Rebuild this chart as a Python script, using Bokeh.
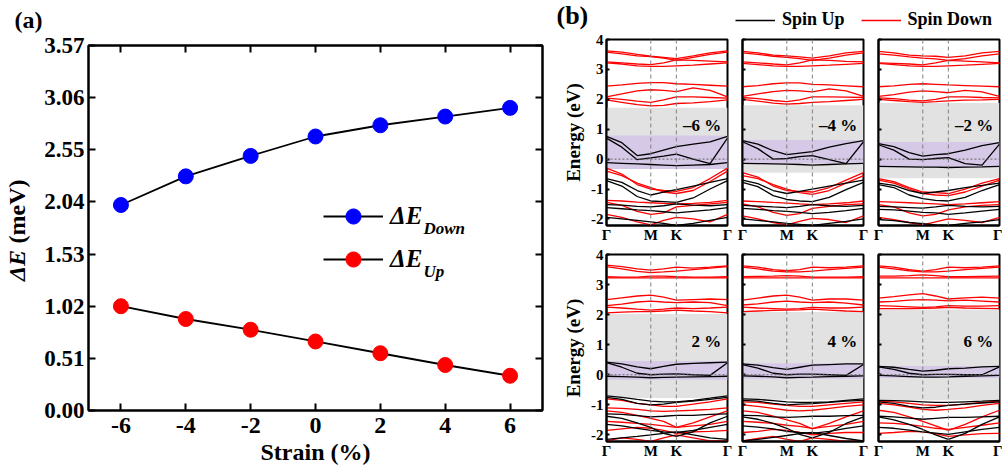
import math
from bokeh.plotting import figure
from bokeh.models import FixedTicker, Label, Legend, LegendItem, Span, LinearAxis, Range1d
from bokeh.layouts import row, column
from bokeh.embed import file_html
from bokeh.resources import INLINE

FONT = "Liberation Serif"

# ---------------- panel (a) data ----------------
STRAIN = [-6, -4, -2, 0, 2, 4, 6]
DE_DOWN = [2.01, 2.29, 2.49, 2.68, 2.79, 2.875, 2.96]
DE_UP = [1.02, 0.895, 0.79, 0.675, 0.56, 0.445, 0.34]
A_XTICKS = [-6, -4, -2, 0, 2, 4, 6]
A_YTICKS = [0.00, 0.51, 1.02, 1.53, 2.04, 2.55, 3.06, 3.57]

# ---------------- panel (b) data ----------------
KPTS = [0.0, 0.2, 0.4, 0.5774, 0.744, 0.9107, 1.13, 1.35, 1.5774]
KTICKS = [0.0, 0.5774, 0.9107, 1.5774]
KLABELS = ["Γ", "M", "K", "Γ"]
E_TICKS = [-2, -1, 0, 1, 2, 3, 4]
STRAIN_LABELS = ["–6 %", "–4 %", "–2 %", "2 %", "4 %", "6 %"]

GAP_M6 = [-0.33, 1.72]
UPWIN_M6 = [-0.33, 0.79]
DOWN_M6 = [
    [3.62, 3.58, 3.50, 3.44, 3.40, 3.36, 3.45, 3.55, 3.62],
    [3.58, 3.52, 3.45, 3.43, 3.38, 3.30, 3.40, 3.50, 3.58],
    [3.25, 3.22, 3.18, 3.16, 3.22, 3.32, 3.30, 3.28, 3.25],
    [3.22, 3.18, 3.12, 3.10, 3.10, 3.12, 3.14, 3.18, 3.22],
    [2.44, 2.48, 2.53, 2.56, 2.56, 2.52, 2.50, 2.47, 2.44],
    [2.08, 2.18, 2.28, 2.32, 2.30, 2.26, 2.38, 2.30, 2.08],
    [2.04, 2.00, 1.94, 1.90, 1.98, 2.08, 2.08, 2.06, 2.04],
    [1.98, 1.90, 1.82, 1.78, 1.80, 1.86, 1.88, 1.92, 1.98],
    [-0.30, -0.50, -0.85, -1.00, -1.05, -1.08, -0.95, -0.65, -0.30],
    [-0.40, -0.55, -0.80, -0.95, -1.10, -1.15, -1.05, -0.75, -0.40],
    [-1.38, -1.40, -1.44, -1.46, -1.48, -1.50, -1.48, -1.45, -1.38],
    [-1.45, -1.55, -1.75, -1.85, -1.80, -1.60, -1.55, -1.50, -1.45],
    [-1.85, -1.95, -2.10, -2.20, -2.05, -1.95, -2.00, -2.10, -1.85],
]
UP_M6 = [
    [0.76, 0.55, 0.12, 0.18, 0.30, 0.42, 0.50, 0.58, 0.76],
    [0.70, 0.40, -0.02, 0.04, 0.10, 0.17, 0.00, -0.15, 0.70],
    [-0.12, -0.14, -0.16, -0.18, -0.20, -0.22, -0.20, -0.18, -0.12],
    [-0.65, -0.78, -1.05, -1.20, -1.10, -1.02, -0.90, -0.78, -0.65],
    [-0.72, -0.90, -1.25, -1.40, -1.42, -1.45, -1.30, -1.00, -0.72],
    [-1.52, -1.54, -1.58, -1.60, -1.56, -1.50, -1.54, -1.56, -1.52],
    [-1.62, -1.66, -1.70, -1.72, -1.76, -1.80, -1.75, -1.70, -1.62],
    [-1.95, -2.00, -2.05, -2.10, -2.15, -2.22, -2.15, -2.05, -1.95],
]

GAP_M4 = [-0.46, 1.80]
UPWIN_M4 = [-0.15, 0.64]
DOWN_M4 = [
    [3.60, 3.55, 3.48, 3.45, 3.42, 3.38, 3.45, 3.55, 3.60],
    [3.55, 3.50, 3.44, 3.40, 3.36, 3.30, 3.38, 3.48, 3.55],
    [3.25, 3.22, 3.18, 3.15, 3.22, 3.32, 3.30, 3.27, 3.25],
    [3.20, 3.16, 3.12, 3.10, 3.10, 3.12, 3.14, 3.17, 3.20],
    [2.42, 2.46, 2.52, 2.55, 2.55, 2.50, 2.48, 2.45, 2.42],
    [2.10, 2.18, 2.26, 2.30, 2.28, 2.25, 2.35, 2.28, 2.10],
    [2.06, 2.02, 1.96, 1.92, 1.98, 2.08, 2.08, 2.07, 2.06],
    [2.00, 1.94, 1.87, 1.84, 1.86, 1.90, 1.92, 1.96, 2.00],
    [-0.45, -0.60, -0.90, -1.05, -1.08, -1.10, -0.95, -0.70, -0.45],
    [-0.55, -0.65, -0.85, -1.00, -1.12, -1.18, -1.05, -0.80, -0.55],
    [-1.40, -1.42, -1.45, -1.47, -1.50, -1.52, -1.50, -1.46, -1.40],
    [-1.50, -1.60, -1.78, -1.88, -1.82, -1.65, -1.58, -1.52, -1.50],
    [-1.90, -2.00, -2.12, -2.20, -2.08, -1.98, -2.02, -2.12, -1.90],
]
UP_M4 = [
    [0.62, 0.50, 0.28, 0.15, 0.20, 0.25, 0.40, 0.52, 0.62],
    [0.58, 0.35, 0.00, 0.02, 0.08, 0.12, -0.02, -0.15, 0.58],
    [-0.14, -0.15, -0.16, -0.17, -0.18, -0.20, -0.18, -0.16, -0.14],
    [-0.70, -0.82, -1.05, -1.15, -1.08, -1.00, -0.90, -0.80, -0.70],
    [-0.78, -0.92, -1.22, -1.35, -1.40, -1.42, -1.28, -1.02, -0.78],
    [-1.55, -1.57, -1.60, -1.62, -1.58, -1.52, -1.56, -1.58, -1.55],
    [-1.65, -1.68, -1.72, -1.75, -1.78, -1.82, -1.78, -1.72, -1.65],
    [-2.00, -2.05, -2.10, -2.15, -2.18, -2.22, -2.15, -2.08, -2.00],
]

GAP_M2 = [-0.64, 1.88]
UPWIN_M2 = [-0.27, 0.57]
DOWN_M2 = [
    [3.60, 3.55, 3.48, 3.45, 3.44, 3.40, 3.45, 3.55, 3.60],
    [3.52, 3.48, 3.42, 3.38, 3.35, 3.30, 3.36, 3.45, 3.52],
    [3.22, 3.20, 3.18, 3.15, 3.22, 3.30, 3.28, 3.25, 3.22],
    [3.20, 3.16, 3.12, 3.10, 3.10, 3.12, 3.14, 3.17, 3.20],
    [2.42, 2.45, 2.50, 2.52, 2.50, 2.48, 2.46, 2.44, 2.42],
    [2.10, 2.16, 2.24, 2.28, 2.26, 2.22, 2.30, 2.25, 2.10],
    [2.05, 2.02, 1.97, 1.95, 2.00, 2.08, 2.08, 2.06, 2.05],
    [2.00, 1.96, 1.92, 1.90, 1.92, 1.95, 1.97, 1.98, 2.00],
    [-0.65, -0.75, -0.95, -1.10, -1.12, -1.15, -1.00, -0.80, -0.65],
    [-0.70, -0.80, -1.00, -1.15, -1.20, -1.22, -1.10, -0.90, -0.70],
    [-1.42, -1.44, -1.46, -1.48, -1.50, -1.52, -1.50, -1.46, -1.42],
    [-1.52, -1.60, -1.80, -1.90, -1.85, -1.70, -1.60, -1.55, -1.52],
    [-1.95, -2.02, -2.12, -2.20, -2.10, -2.00, -2.05, -2.12, -1.95],
]
UP_M2 = [
    [0.52, 0.42, 0.22, 0.10, 0.15, 0.18, 0.30, 0.45, 0.55],
    [0.48, 0.30, 0.00, -0.02, 0.02, 0.05, -0.15, -0.20, 0.50],
    [-0.24, -0.25, -0.26, -0.27, -0.27, -0.28, -0.27, -0.26, -0.24],
    [-0.80, -0.88, -1.05, -1.15, -1.10, -1.05, -0.95, -0.88, -0.80],
    [-0.85, -0.95, -1.20, -1.32, -1.38, -1.40, -1.28, -1.05, -0.85],
    [-1.58, -1.60, -1.62, -1.64, -1.60, -1.55, -1.58, -1.60, -1.58],
    [-1.68, -1.70, -1.74, -1.78, -1.80, -1.85, -1.80, -1.74, -1.68],
    [-2.02, -2.06, -2.12, -2.16, -2.20, -2.22, -2.15, -2.10, -2.02],
]

GAP_P2 = [-0.77, 2.02]
UPWIN_P2 = [-0.17, 0.46]
DOWN_P2 = [
    [3.65, 3.60, 3.52, 3.48, 3.52, 3.58, 3.55, 3.58, 3.62],
    [3.60, 3.52, 3.44, 3.40, 3.42, 3.45, 3.50, 3.55, 3.60],
    [3.26, 3.25, 3.25, 3.28, 3.28, 3.26, 3.25, 3.25, 3.26],
    [3.22, 3.22, 3.22, 3.22, 3.22, 3.22, 3.22, 3.22, 3.22],
    [2.50, 2.56, 2.62, 2.65, 2.58, 2.48, 2.50, 2.52, 2.50],
    [2.30, 2.35, 2.42, 2.45, 2.42, 2.40, 2.42, 2.40, 2.30],
    [2.25, 2.22, 2.18, 2.15, 2.18, 2.22, 2.20, 2.22, 2.25],
    [2.06, 2.08, 2.10, 2.10, 2.12, 2.15, 2.12, 2.10, 2.06],
    [-0.80, -0.85, -0.95, -1.00, -1.05, -1.05, -0.98, -0.90, -0.80],
    [-1.10, -1.12, -1.15, -1.20, -1.22, -1.20, -1.18, -1.15, -1.10],
    [-1.20, -1.25, -1.35, -1.45, -1.55, -1.75, -1.60, -1.40, -1.20],
    [-1.55, -1.58, -1.62, -1.65, -1.70, -1.75, -1.70, -1.65, -1.55],
    [-1.85, -1.80, -1.75, -1.78, -1.85, -1.95, -1.90, -1.88, -1.85],
    [-2.20, -2.10, -2.15, -2.22, -2.10, -2.00, -2.10, -2.20, -2.20],
]
UP_P2 = [
    [0.42, 0.36, 0.26, 0.20, 0.28, 0.35, 0.38, 0.40, 0.42],
    [0.40, 0.25, 0.05, 0.00, 0.02, 0.03, 0.00, -0.02, 0.40],
    [-0.05, -0.06, -0.08, -0.10, -0.09, -0.08, -0.07, -0.06, -0.05],
    [-0.70, -0.75, -0.82, -0.88, -0.90, -0.90, -0.85, -0.78, -0.70],
    [-0.75, -0.82, -0.95, -1.00, -0.98, -0.92, -0.88, -0.82, -0.75],
    [-1.30, -1.32, -1.36, -1.40, -1.38, -1.35, -1.35, -1.32, -1.30],
    [-1.38, -1.45, -1.60, -1.75, -1.95, -2.05, -1.90, -1.60, -1.38],
    [-1.65, -1.70, -1.78, -1.85, -1.90, -1.92, -1.85, -1.75, -1.65],
    [-2.15, -2.10, -2.05, -2.00, -1.95, -1.90, -2.00, -2.10, -2.15],
]

GAP_P4 = [-0.83, 2.09]
UPWIN_P4 = [-0.13, 0.38]
DOWN_P4 = [
    [3.62, 3.58, 3.50, 3.46, 3.50, 3.58, 3.56, 3.58, 3.62],
    [3.58, 3.52, 3.45, 3.42, 3.42, 3.45, 3.50, 3.54, 3.58],
    [3.26, 3.27, 3.28, 3.30, 3.28, 3.25, 3.25, 3.25, 3.26],
    [3.22, 3.22, 3.22, 3.22, 3.22, 3.22, 3.22, 3.22, 3.22],
    [2.48, 2.55, 2.62, 2.65, 2.58, 2.48, 2.52, 2.52, 2.48],
    [2.32, 2.36, 2.42, 2.45, 2.42, 2.40, 2.42, 2.38, 2.32],
    [2.25, 2.22, 2.20, 2.18, 2.20, 2.24, 2.22, 2.22, 2.25],
    [2.10, 2.12, 2.14, 2.15, 2.16, 2.18, 2.15, 2.12, 2.10],
    [-0.90, -0.92, -0.98, -1.02, -1.05, -1.05, -1.00, -0.95, -0.90],
    [-1.00, -1.05, -1.12, -1.18, -1.20, -1.18, -1.12, -1.05, -1.00],
    [-1.20, -1.25, -1.38, -1.50, -1.62, -1.80, -1.62, -1.40, -1.20],
    [-1.55, -1.58, -1.62, -1.68, -1.72, -1.78, -1.72, -1.65, -1.55],
    [-1.92, -1.88, -1.82, -1.85, -1.92, -2.00, -1.95, -1.92, -1.92],
    [-2.20, -2.12, -2.05, -2.15, -2.22, -2.10, -2.15, -2.22, -2.20],
]
UP_P4 = [
    [0.36, 0.32, 0.24, 0.18, 0.25, 0.32, 0.34, 0.36, 0.36],
    [0.34, 0.22, 0.05, 0.00, 0.02, 0.02, 0.00, -0.02, 0.34],
    [-0.04, -0.05, -0.07, -0.10, -0.09, -0.08, -0.06, -0.05, -0.04],
    [-0.80, -0.82, -0.86, -0.90, -0.92, -0.92, -0.90, -0.85, -0.80],
    [-0.85, -0.88, -0.95, -1.00, -0.98, -0.96, -0.92, -0.88, -0.85],
    [-1.35, -1.36, -1.40, -1.42, -1.40, -1.38, -1.38, -1.36, -1.35],
    [-1.40, -1.48, -1.62, -1.78, -1.98, -2.10, -1.92, -1.62, -1.40],
    [-1.70, -1.74, -1.80, -1.88, -1.92, -1.95, -1.88, -1.78, -1.70],
    [-2.20, -2.15, -2.08, -2.02, -1.96, -1.92, -2.02, -2.12, -2.20],
]

GAP_P6 = [-0.85, 2.17]
UPWIN_P6 = [-0.11, 0.29]
DOWN_P6 = [
    [3.62, 3.58, 3.50, 3.45, 3.50, 3.58, 3.56, 3.58, 3.62],
    [3.58, 3.52, 3.46, 3.42, 3.42, 3.45, 3.50, 3.54, 3.58],
    [3.28, 3.28, 3.30, 3.32, 3.30, 3.26, 3.26, 3.27, 3.28],
    [3.22, 3.22, 3.22, 3.22, 3.22, 3.22, 3.22, 3.22, 3.22],
    [2.55, 2.60, 2.66, 2.70, 2.62, 2.52, 2.56, 2.58, 2.55],
    [2.42, 2.44, 2.48, 2.50, 2.48, 2.46, 2.48, 2.45, 2.42],
    [2.30, 2.28, 2.26, 2.24, 2.26, 2.30, 2.28, 2.28, 2.30],
    [2.20, 2.20, 2.20, 2.21, 2.22, 2.24, 2.22, 2.21, 2.20],
    [-0.88, -0.90, -0.95, -1.00, -1.02, -1.02, -0.98, -0.92, -0.88],
    [-0.95, -1.00, -1.08, -1.15, -1.18, -1.15, -1.10, -1.02, -0.95],
    [-1.18, -1.25, -1.40, -1.55, -1.70, -1.85, -1.65, -1.40, -1.18],
    [-1.60, -1.62, -1.66, -1.72, -1.78, -1.82, -1.75, -1.68, -1.60],
    [-1.95, -1.92, -1.88, -1.90, -1.96, -2.05, -2.00, -1.96, -1.95],
]
UP_P6 = [
    [0.28, 0.25, 0.18, 0.12, 0.15, 0.20, 0.22, 0.26, 0.28],
    [0.26, 0.18, 0.05, 0.00, 0.01, 0.01, 0.00, 0.00, 0.26],
    [-0.02, -0.04, -0.06, -0.08, -0.08, -0.07, -0.05, -0.04, -0.02],
    [-0.85, -0.86, -0.88, -0.90, -0.92, -0.92, -0.90, -0.88, -0.85],
    [-0.90, -0.95, -1.05, -1.10, -1.08, -1.02, -0.98, -0.94, -0.90],
    [-1.38, -1.40, -1.44, -1.48, -1.45, -1.42, -1.42, -1.40, -1.38],
    [-1.40, -1.50, -1.65, -1.82, -2.00, -2.15, -1.95, -1.65, -1.40],
    [-1.75, -1.78, -1.84, -1.90, -1.94, -1.98, -1.90, -1.82, -1.75],
]

PANELS = [
    (STRAIN_LABELS[0], DOWN_M6, UP_M6, GAP_M6, UPWIN_M6),
    (STRAIN_LABELS[1], DOWN_M4, UP_M4, GAP_M4, UPWIN_M4),
    (STRAIN_LABELS[2], DOWN_M2, UP_M2, GAP_M2, UPWIN_M2),
    (STRAIN_LABELS[3], DOWN_P2, UP_P2, GAP_P2, UPWIN_P2),
    (STRAIN_LABELS[4], DOWN_P4, UP_P4, GAP_P4, UPWIN_P4),
    (STRAIN_LABELS[5], DOWN_P6, UP_P6, GAP_P6, UPWIN_P6),
]

RED = "#ff0000"
BLUE = "#0000ff"
GRAY_FILL = "#e2e2e2"
PURPLE_FILL = "#d6c9e8"


def style_axis(ax, size, tick_in, lw=2.0, standoff=5):
    ax.major_label_text_font = FONT
    ax.major_label_text_font_style = "bold"
    ax.major_label_text_font_size = size
    ax.major_label_text_color = "black"
    ax.major_label_standoff = standoff
    ax.major_tick_in = tick_in
    ax.major_tick_out = 0
    ax.minor_tick_line_color = None
    ax.axis_line_width = lw
    ax.axis_line_color = "black"
    ax.major_tick_line_width = lw
    ax.major_tick_line_color = "black"


def blank_fig(w, h):
    f = figure(width=w, height=h, x_range=Range1d(0, w), y_range=Range1d(0, h),
               output_backend="svg", toolbar_location=None,
               x_axis_type=None, y_axis_type=None, min_border=0)
    f.outline_line_color = None
    f.grid.visible = False
    return f


def txt(text, x, y, size, style="bold", align="left", baseline="middle", angle=0.0):
    return Label(x=x, y=y, text=text, angle=angle, text_font=FONT, text_font_style=style,
                 text_font_size=size, text_color="black", text_align=align,
                 text_baseline=baseline)


# ================= panel (a) =================
A_X0, A_X1, A_Y0, A_Y1 = -7.0, 7.0, 0.0, 3.57
A_FW, A_FH = 454, 365
TOP_A = 33           # height of the strip holding "(a)"
H_A = 472 - TOP_A    # height of panel (a) figure and of its y-title strip


def a_pos(px, py):
    """pixel offset from the frame's top-left corner -> data coordinates"""
    return (A_X0 + px * (A_X1 - A_X0) / A_FW, A_Y1 - py * (A_Y1 - A_Y0) / A_FH)


pa = figure(width=519, height=H_A, x_range=Range1d(A_X0, A_X1), y_range=Range1d(A_Y0, A_Y1),
            output_backend="svg", toolbar_location=None,
            min_border_left=52, min_border_right=13, min_border_top=12, min_border_bottom=62)
pa.grid.visible = False
pa.outline_line_color = "black"
pa.outline_line_width = 2

pa.xaxis.ticker = FixedTicker(ticks=A_XTICKS)
pa.xaxis.major_label_overrides = {t: str(t) for t in A_XTICKS}
pa.yaxis.ticker = FixedTicker(ticks=A_YTICKS)
pa.yaxis.major_label_overrides = {t: f"{t:.2f}" for t in A_YTICKS}
style_axis(pa.xaxis[0], "24px", 7, standoff=7)
style_axis(pa.yaxis[0], "23px", 7, standoff=4)
pa.xaxis.axis_label = "Strain (%)"
pa.xaxis.axis_label_text_font = FONT
pa.xaxis.axis_label_text_font_style = "bold"
pa.xaxis.axis_label_text_font_size = "24px"
pa.xaxis.axis_label_text_color = "black"
pa.xaxis.axis_label_standoff = 3

ta = LinearAxis(ticker=FixedTicker(ticks=A_XTICKS),
                major_label_overrides={t: "" for t in A_XTICKS})
style_axis(ta, "10px", 7, standoff=0)
pa.add_layout(ta, "above")
ra = LinearAxis(ticker=FixedTicker(ticks=A_YTICKS),
                major_label_overrides={t: "" for t in A_YTICKS})
style_axis(ra, "10px", 7, standoff=0)
pa.add_layout(ra, "right")

ld = pa.line(STRAIN, DE_DOWN, line_color="black", line_width=1.8)
sd = pa.scatter(STRAIN, DE_DOWN, size=15, marker="circle", fill_color=BLUE, line_color=BLUE)
lu = pa.line(STRAIN, DE_UP, line_color="black", line_width=1.8)
su = pa.scatter(STRAIN, DE_UP, size=15, marker="circle", fill_color=RED, line_color=RED)

leg_a = Legend(items=[LegendItem(label="ΔE", renderers=[ld, sd]),
                      LegendItem(label="ΔE", renderers=[lu, su])],
               location=(235, 132), orientation="vertical",
               glyph_width=60, glyph_height=38, label_height=38, spacing=5,
               padding=0, margin=0, label_standoff=7,
               border_line_color=None, background_fill_alpha=0,
               label_text_font=FONT, label_text_font_style="bold italic",
               label_text_font_size="25px", label_text_color="black")
pa.add_layout(leg_a)

for sub, py in (("Down", 183), ("Up", 226)):
    x, y = a_pos(335, py)
    pa.add_layout(txt(sub, x, y, "17px", style="bold italic"))

# strip left of panel (a) holding the y-axis title ("ΔE" italic, "(meV)" upright)
ys = blank_fig(36, H_A)
ys.add_layout(txt("ΔE", 16, 193, "24px", style="bold italic", align="right",
                  angle=math.pi / 2))
ys.add_layout(txt("(meV)", 16, 201, "24px", align="left", angle=math.pi / 2))

# strip above panel (a) holding "(a)"
ta_strip = blank_fig(555, TOP_A)
ta_strip.add_layout(txt("(a)", 14, TOP_A - 6, "24px", baseline="top"))

# ================= panel (b) =================
E_MIN, E_MAX = -2.22, 4.0
KEND = KTICKS[-1]
HDR_H = 31
COLS = [(180, 51, 8), (136, 7, 8), (131, 7, 3)]   # width, left border, right border
ROWS = [(214, 8, 19), (227, 9, 31)]               # height, top border, bottom border

band_figs = []
for i, (lab, down, up, gap, upwin) in enumerate(PANELS):
    r, c = divmod(i, 3)
    w, bl, br = COLS[c]
    h, bt, bb = ROWS[r]
    p = figure(width=w, height=h, x_range=Range1d(0, KEND), y_range=Range1d(E_MIN, E_MAX),
               output_backend="svg", toolbar_location=None,
               min_border_left=bl, min_border_right=br, min_border_top=bt, min_border_bottom=bb)
    p.grid.visible = False
    p.outline_line_color = "black"
    p.outline_line_width = 2

    p.quad(left=[0], right=[KEND], bottom=[gap[0]], top=[gap[1]],
           fill_color=GRAY_FILL, line_color=None)
    p.quad(left=[0], right=[KEND], bottom=[upwin[0]], top=[upwin[1]],
           fill_color=PURPLE_FILL, line_color=None)

    for kx in KTICKS[1:3]:
        p.add_layout(Span(location=kx, dimension="height", line_color="#808080",
                          line_dash="4 3", line_width=1))
    p.add_layout(Span(location=0, dimension="width", line_color="#666666",
                      line_dash="2 2", line_width=1))

    p.multi_line(xs=[KPTS] * len(down), ys=down, line_color=RED, line_width=1.3)
    p.multi_line(xs=[KPTS] * len(up), ys=up, line_color="black", line_width=1.3)

    p.xaxis.ticker = FixedTicker(ticks=KTICKS)
    p.xaxis.major_label_overrides = {k: s for k, s in zip(KTICKS, KLABELS)}
    style_axis(p.xaxis[0], "15px", 0, lw=2, standoff=1)
    p.yaxis.ticker = FixedTicker(ticks=E_TICKS)
    if c == 0:
        p.yaxis.major_label_overrides = {t: str(t) for t in E_TICKS}
        style_axis(p.yaxis[0], "15px", 3, lw=2, standoff=3)
        p.yaxis.axis_label = "Energy (eV)"
        p.yaxis.axis_label_text_font = FONT
        p.yaxis.axis_label_text_font_style = "bold"
        p.yaxis.axis_label_text_font_size = "19px"
        p.yaxis.axis_label_text_color = "black"
        p.yaxis.axis_label_standoff = 4
    else:
        p.yaxis.major_label_overrides = {t: "" for t in E_TICKS}
        style_axis(p.yaxis[0], "10px", 3, lw=2, standoff=0)

    p.add_layout(Label(x=KEND - 0.08, y=1.12, text=lab, text_font=FONT, text_font_style="bold",
                       text_font_size="17px", text_color="black",
                       text_align="right", text_baseline="middle"))
    band_figs.append(p)

# header with "(b)" and the spin legend
hdr = blank_fig(447, HDR_H)
r_up = hdr.line(x=[math.nan], y=[math.nan], line_color="black", line_width=1.5)
r_dn = hdr.line(x=[math.nan], y=[math.nan], line_color=RED, line_width=1.5)
leg_b = Legend(items=[LegendItem(label="Spin Up", renderers=[r_up]),
                      LegendItem(label="Spin Down", renderers=[r_dn])],
               location=(180, 1), orientation="horizontal",
               glyph_width=40, glyph_height=18, label_height=18, spacing=16,
               padding=0, margin=0, label_standoff=7,
               border_line_color=None, background_fill_alpha=0,
               label_text_font=FONT, label_text_font_style="bold",
               label_text_font_size="18px", label_text_color="black")
hdr.add_layout(leg_b)
hdr.add_layout(txt("(b)", 1, HDR_H, "26px", baseline="top"))

left_part = column(ta_strip, row(ys, pa))
right_part = column(hdr, row(*band_figs[0:3]), row(*band_figs[3:6]))
layout = row(left_part, right_part)

with open("out.html", "w") as f:
    f.write(file_html(layout, INLINE))
